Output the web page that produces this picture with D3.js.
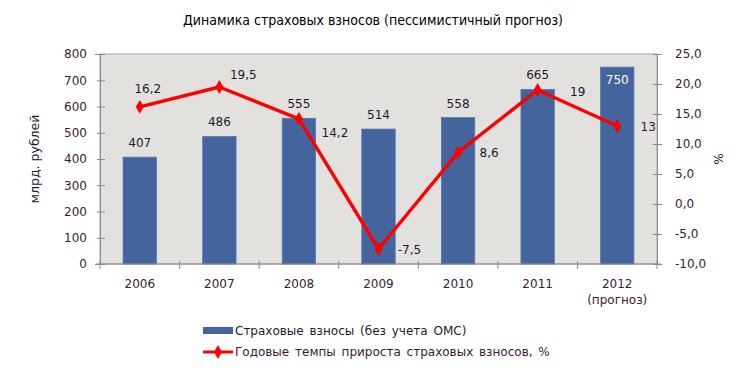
<!DOCTYPE html>
<html>
<head>
<meta charset="utf-8">
<script src="https://cdn.jsdelivr.net/npm/d3@7"></script>
<style>
  body { margin: 0; background: #fff; }
  svg { display: block; }
</style>
</head>
<body>
<svg id="chart"></svg>
<script>
const width = 746;
const height = 372;

const years = ["2006", "2007", "2008", "2009", "2010", "2011", "2012"];
const yearNotes = ["", "", "", "", "", "", "(прогноз)"];
const premiums = [407, 486, 555, 514, 558, 665, 750];
const growth = [16.2, 19.5, 14.2, -7.5, 8.6, 19, 13];
const growthLabels = ["16,2", "19,5", "14,2", "-7,5", "8,6", "19", "13"];
const leftTicks = [0, 100, 200, 300, 400, 500, 600, 700, 800];
const rightTicks = [-10, -5, 0, 5, 10, 15, 20, 25];

// where each growth label sits relative to its point
const growthLabelPlace = ["top", "topright", "below", "right", "right", "farright", "right"];

const margin = { left: 100, right: 89, top: 54, bottom: 108 };
const font = "Tahoma, 'DejaVu Sans', sans-serif";
const tickColor = "#3a1a3a";

const svg = d3.select("#chart")
  .attr("width", width)
  .attr("height", height);

const x = d3.scaleBand()
  .domain(years)
  .range([margin.left, width - margin.right])
  .paddingInner(0.58)
  .paddingOuter(0.29);

const yLeft = d3.scaleLinear()
  .domain([0, 800])
  .range([height - margin.bottom, margin.top]);

const yRight = d3.scaleLinear()
  .domain([-10, 25])
  .range([height - margin.bottom, margin.top]);

// title
svg.append("text")
  .attr("x", 373)
  .attr("y", 25)
  .attr("text-anchor", "middle")
  .attr("font-family", "'DejaVu Sans Condensed', sans-serif")
  .attr("font-size", 14)
  .attr("fill", "#000")
  .text("Динамика страховых взносов (пессимистичный прогноз)");

// plot background
svg.append("rect")
  .attr("x", margin.left)
  .attr("y", margin.top)
  .attr("width", width - margin.right - margin.left)
  .attr("height", height - margin.bottom - margin.top)
  .attr("fill", "#e3e1de")
  .attr("stroke", "#a8a8a8")
  .attr("stroke-width", 1);

// bars
svg.append("g")
  .selectAll("rect")
  .data(premiums)
  .enter().append("rect")
    .attr("x", (d, i) => x(years[i]))
    .attr("y", d => yLeft(d))
    .attr("width", x.bandwidth())
    .attr("height", d => yLeft(0) - yLeft(d))
    .attr("fill", "#43649c")
    .attr("stroke", "#5a78ad")
    .attr("stroke-width", 0.8);

// bar labels
svg.append("g")
  .selectAll("text")
  .data(premiums)
  .enter().append("text")
    .attr("x", (d, i) => x(years[i]) + x.bandwidth() / 2)
    .attr("y", (d, i) => i === premiums.length - 1 ? yLeft(d) + 17 : yLeft(d) - 10)
    .attr("text-anchor", "middle")
    .attr("font-family", font)
    .attr("font-size", 12)
    .attr("fill", (d, i) => i === premiums.length - 1 ? "#fff" : "#1a1a2e")
    .text(d => d);

// axes
const axisLeft = svg.append("g")
  .attr("transform", `translate(${margin.left},0)`)
  .call(d3.axisLeft(yLeft).tickValues(leftTicks).tickSize(5).tickPadding(8));

const axisRight = svg.append("g")
  .attr("transform", `translate(${width - margin.right},0)`)
  .call(d3.axisRight(yRight).tickValues(rightTicks).tickSize(5).tickPadding(13)
    .tickFormat(d => d3.format(".1f")(d).replace(".", ",").replace("−", "-")));

const boundaries = years.map(y => x(y) - x.step() * x.paddingInner() / 2)
  .concat([width - margin.right]);
boundaries[0] = margin.left;

const axisBottom = svg.append("g");
axisBottom.append("line")
  .attr("x1", margin.left - 4).attr("x2", width - margin.right + 4)
  .attr("y1", yLeft(0)).attr("y2", yLeft(0))
  .attr("stroke", "#8a8a8a");
axisBottom.selectAll("line.tick")
  .data(boundaries)
  .enter().append("line")
    .attr("class", "tick")
    .attr("x1", d => d).attr("x2", d => d)
    .attr("y1", yLeft(0) - 3).attr("y2", yLeft(0) + 5)
    .attr("stroke", "#8a8a8a");

axisBottom.selectAll("text.year")
  .data(years)
  .enter().append("text")
    .attr("class", "year")
    .attr("x", d => x(d) + x.bandwidth() / 2)
    .attr("y", yLeft(0) + 24)
    .attr("text-anchor", "middle")
    .attr("font-family", font)
    .attr("font-size", 12)
    .attr("fill", tickColor)
    .text(d => d);

axisBottom.selectAll("text.note")
  .data(yearNotes)
  .enter().append("text")
    .attr("class", "note")
    .attr("x", (d, i) => x(years[i]) + x.bandwidth() / 2)
    .attr("y", yLeft(0) + 40)
    .attr("text-anchor", "middle")
    .attr("font-family", font)
    .attr("font-size", 12)
    .attr("fill", tickColor)
    .text(d => d);

[axisLeft, axisRight].forEach(a => {
  a.select(".domain").attr("stroke", "#8a8a8a");
  a.selectAll(".tick line").attr("stroke", "#8a8a8a");
  a.selectAll(".tick text")
    .attr("font-family", font)
    .attr("font-size", 12)
    .attr("fill", tickColor);
});
axisLeft.selectAll(".tick line").attr("x2", 5).attr("x1", -3);
axisRight.selectAll(".tick line").attr("x1", -4).attr("x2", 5);

// axis titles
svg.append("text")
  .attr("transform", `translate(39,${(margin.top + height - margin.bottom) / 2}) rotate(-90)`)
  .attr("text-anchor", "middle")
  .attr("font-family", font)
  .attr("font-size", 12.5)
  .attr("fill", "#1a1a2e")
  .text("млрд. рублей");

svg.append("text")
  .attr("transform", `translate(714,${(margin.top + height - margin.bottom) / 2}) rotate(90)`)
  .attr("text-anchor", "middle")
  .attr("font-family", font)
  .attr("font-size", 12)
  .attr("fill", "#1a1a2e")
  .text("%");

// growth line
const cx = (d, i) => x(years[i]) + x.bandwidth() / 2;
const line = d3.line()
  .x(cx)
  .y(d => yRight(d));

svg.append("path")
  .datum(growth)
  .attr("d", line)
  .attr("fill", "none")
  .attr("stroke", "#ff0000")
  .attr("stroke-width", 3.4)
  .attr("stroke-linejoin", "round");

const diamond = d3.symbol().type(d3.symbolDiamond).size(55);
svg.append("g")
  .selectAll("path")
  .data(growth)
  .enter().append("path")
    .attr("transform", (d, i) => `translate(${cx(d, i)},${yRight(d)})`)
    .attr("d", diamond)
    .attr("fill", "#ff0000");

const placeOffset = {
  top: [8, -14],
  topright: [24, -8],
  below: [36, 18],
  right: [31, 5],
  farright: [40, 6]
};

svg.append("g")
  .selectAll("text")
  .data(growth)
  .enter().append("text")
    .attr("x", (d, i) => cx(d, i) + placeOffset[growthLabelPlace[i]][0])
    .attr("y", (d, i) => yRight(d) + placeOffset[growthLabelPlace[i]][1])
    .attr("text-anchor", "middle")
    .attr("font-family", font)
    .attr("font-size", 12)
    .attr("fill", (d, i) => i === growth.length - 1 ? "#3a1a3a" : "#1a1a2e")
    .text((d, i) => growthLabels[i]);

// legend
const legend = svg.append("g").attr("transform", "translate(203,0)");
legend.append("rect")
  .attr("x", 0).attr("y", 327)
  .attr("width", 30).attr("height", 7)
  .attr("fill", "#43649c");
legend.append("text")
  .attr("x", 32).attr("y", 335)
  .attr("font-family", font)
  .attr("font-size", 12)
  .attr("word-spacing", 2)
  .attr("fill", "#1a1a2e")
  .text("Страховые взносы (без учета ОМС)");
legend.append("line")
  .attr("x1", 0).attr("x2", 30)
  .attr("y1", 352).attr("y2", 352)
  .attr("stroke", "#ff0000")
  .attr("stroke-width", 3);
legend.append("path")
  .attr("transform", "translate(15,352)")
  .attr("d", diamond)
  .attr("fill", "#ff0000");
legend.append("text")
  .attr("x", 32).attr("y", 356)
  .attr("font-family", font)
  .attr("font-size", 12)
  .attr("word-spacing", 2)
  .attr("fill", "#3a1a3a")
  .text("Годовые темпы прироста страховых взносов, %");
</script>
</body>
</html>
